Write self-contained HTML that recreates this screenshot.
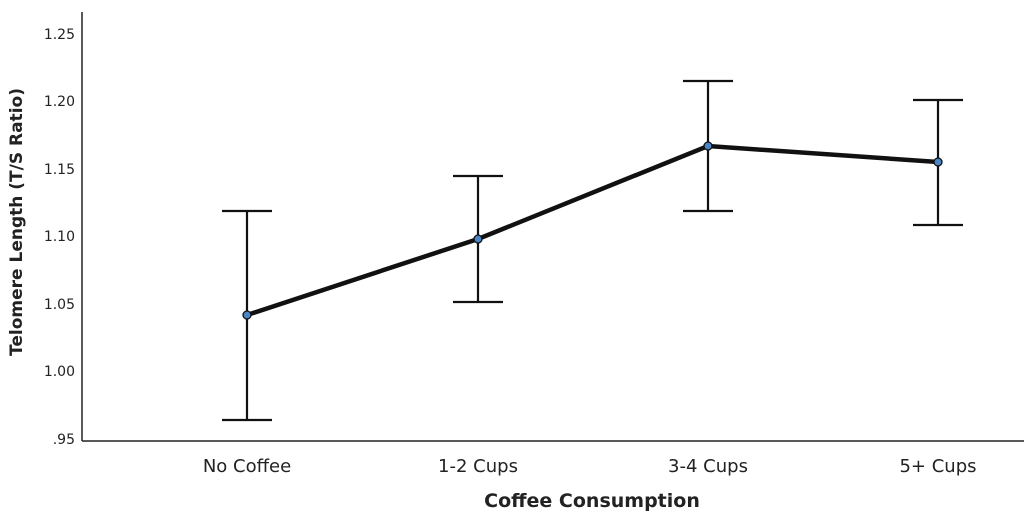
<!DOCTYPE html>
<html><head><meta charset="utf-8"><style>
html,body{margin:0;padding:0;background:#fff;}
svg{display:block;font-family:"DejaVu Sans","Liberation Sans",sans-serif;}
</style></head><body>
<svg width="1024" height="518" viewBox="0 0 1024 518">
<g fill="#222" font-size="14" text-anchor="end">
<text x="75" y="39">1.25</text>
<text x="75" y="106">1.20</text>
<text x="75" y="174">1.15</text>
<text x="75" y="241">1.10</text>
<text x="75" y="309">1.05</text>
<text x="75" y="376">1.00</text>
<text x="75" y="444">.95</text>
</g>
<text transform="translate(22,222) rotate(-90)" text-anchor="middle" font-size="17" font-weight="bold" fill="#222">Telomere Length (T/S Ratio)</text>
<line x1="82" y1="12" x2="82" y2="441" stroke="#222" stroke-width="1.5"/>
<line x1="82" y1="441" x2="1024" y2="441" stroke="#222" stroke-width="1.5"/>
<g font-size="18" fill="#222" text-anchor="middle">
<text x="247" y="472">No Coffee</text>
<text x="478" y="472">1-2 Cups</text>
<text x="708" y="472">3-4 Cups</text>
<text x="938" y="472">5+ Cups</text>
</g>
<text x="592" y="507" text-anchor="middle" font-size="19" font-weight="bold" fill="#222">Coffee Consumption</text>
<g stroke="#111" stroke-width="2.2" fill="none">
<path d="M247 211V420M222 211H272M222 420H272"/>
<path d="M478 176V302M453 176H503M453 302H503"/>
<path d="M708 81V211M683 81H733M683 211H733"/>
<path d="M938 100V225M913 100H963M913 225H963"/>
</g>
<polyline points="247,315 478,239 708,146 938,162" fill="none" stroke="#111" stroke-width="4.5"/>
<g fill="#4a86c5" stroke="#111" stroke-width="1.3">
<circle cx="247" cy="315" r="4"/><circle cx="478" cy="239" r="4"/>
<circle cx="708" cy="146" r="4"/><circle cx="938" cy="162" r="4"/>
</g>
</svg>
</body></html>
